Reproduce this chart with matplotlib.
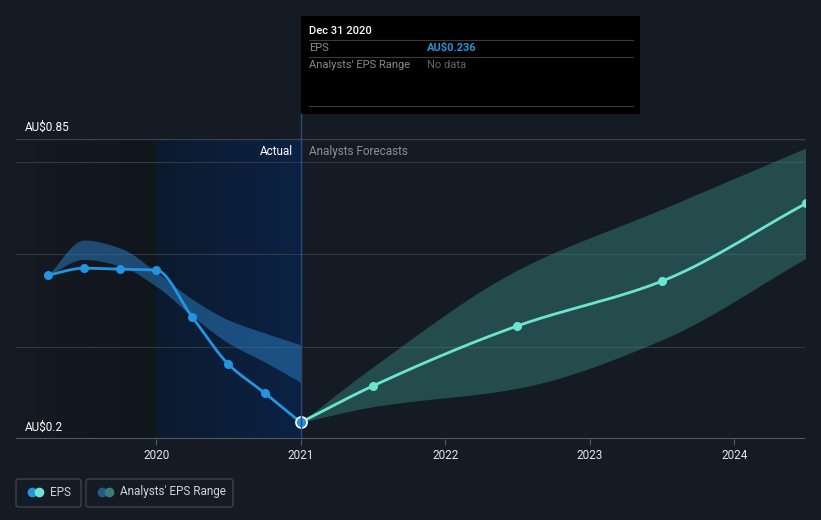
import numpy as np
import matplotlib
matplotlib.use("Agg")
import matplotlib.pyplot as plt
from matplotlib.patches import FancyBboxPatch, Rectangle
from matplotlib.lines import Line2D

plt.rcParams['font.family'] = ['Roboto', 'DejaVu Sans']

# ---- data ----
eps_years = [2019.25, 2019.5, 2019.75, 2020.0, 2020.25, 2020.5, 2020.75, 2021.0]
eps_vals = [0.555, 0.570, 0.568, 0.566, 0.464, 0.362, 0.300, 0.236]

past_range_years = [2019.25, 2019.5, 2019.75, 2020.0, 2020.25, 2020.5, 2020.75, 2021.0]
past_range_high = [0.555, 0.631, 0.614, 0.562, 0.503, 0.458, 0.430, 0.404]
past_range_low = [0.555, 0.589, 0.575, 0.531, 0.466, 0.408, 0.367, 0.323]

fc_years = [2021.0, 2021.5, 2022.5, 2023.5, 2024.5]
fc_vals = [0.236, 0.315, 0.445, 0.542, 0.711]
fc_high = [0.236, 0.356, 0.566, 0.698, 0.831]
fc_low = [0.236, 0.270, 0.310, 0.415, 0.592]

x_ticks = [2020, 2021, 2022, 2023, 2024]

BG = "#151b25"
EPS_BLUE = "#2394df"
FC_TEAL = "#6ce5d0"
GRID = "#323844"


def monotone(x, y, n=300):
    # monotone cubic (Fritsch-Carlson) just for drawing smooth curves
    x = np.asarray(x, float)
    y = np.asarray(y, float)
    h = np.diff(x)
    d = np.diff(y) / h
    m = np.zeros_like(y)
    m[0], m[-1] = d[0], d[-1]
    for i in range(1, len(y) - 1):
        if d[i - 1] * d[i] <= 0:
            m[i] = 0
        else:
            w1 = 2 * h[i] + h[i - 1]
            w2 = h[i] + 2 * h[i - 1]
            m[i] = (w1 + w2) / (w1 / d[i - 1] + w2 / d[i])
    xs = np.linspace(x[0], x[-1], n)
    idx = np.clip(np.searchsorted(x, xs) - 1, 0, len(x) - 2)
    t = (xs - x[idx]) / h[idx]
    h00 = 2 * t**3 - 3 * t**2 + 1
    h10 = t**3 - 2 * t**2 + t
    h01 = -2 * t**3 + 3 * t**2
    h11 = t**3 - t**2
    ys = h00 * y[idx] + h10 * h[idx] * m[idx] + h01 * y[idx + 1] + h11 * h[idx] * m[idx + 1]
    return xs, ys


fig = plt.figure(figsize=(8.21, 5.2), dpi=100)
fig.patch.set_facecolor(BG)
ax = fig.add_axes([16 / 821, 1 - 439 / 520, 789 / 821, 300 / 520])
ax.set_facecolor(BG)
x0, x1 = 2019.03, 2024.49
ax.set_xlim(x0, x1)
ax.set_ylim(0.2, 0.85)

# shaded backgrounds (dark past, blue last year)
grad = np.linspace(0, 1, 100).reshape(1, -1)
ax.imshow(grad, extent=[x0, 2020.0, 0.2, 0.85], aspect="auto", zorder=0,
          cmap=matplotlib.colors.LinearSegmentedColormap.from_list("d", ["#151a23", "#11151c"]))
ax.imshow(grad, extent=[2020.0, 2021.0, 0.2, 0.85], aspect="auto", zorder=0,
          cmap=matplotlib.colors.LinearSegmentedColormap.from_list("b", ["#0c1a2e", "#0b2244"]))

for yv in [0.4, 0.6, 0.8]:
    ax.axhline(yv, color=GRID, lw=0.8, zorder=1)
ax.axhline(0.85, color="#3c424d", lw=1, zorder=1)
ax.axhline(0.2, color="#555b66", lw=1.5, zorder=1)

# ranges
px, ph = monotone(past_range_years, past_range_high)
_, pl = monotone(past_range_years, past_range_low)
ax.fill_between(px, pl, ph, color="#2a77b8", alpha=0.55, lw=0, zorder=2)
fx, fh = monotone(fc_years, fc_high)
_, fl = monotone(fc_years, fc_low)
ax.fill_between(fx, fl, fh, color="#3a8a80", alpha=0.45, lw=0, zorder=2)

# lines
ex, ey = monotone(eps_years, eps_vals)
ax.plot(ex, ey, color=EPS_BLUE, lw=2.0, zorder=4, solid_capstyle="round")
ax.plot(eps_years[:-1], eps_vals[:-1], "o", color=EPS_BLUE, ms=5.5, zorder=5)
gx, gy = monotone(fc_years, fc_vals)
ax.plot(gx, gy, color=FC_TEAL, lw=2.0, zorder=4)
ax.plot(fc_years[1:], fc_vals[1:], "o", color=FC_TEAL, ms=5.5, zorder=5)
ax.plot([eps_years[-1]], [eps_vals[-1]], "o", color=EPS_BLUE, ms=8,
        mec="white", mew=1.2, zorder=6)

ax.set_xticks(x_ticks)
ax.set_xticklabels([str(v) for v in x_ticks], color="#e6e6e6", fontsize=8.5)
ax.tick_params(axis="x", length=4, color="#555b66", pad=3)
ax.set_yticks([])
for s in ax.spines.values():
    s.set_visible(False)

# labels on axis
fig.text(25 / 821, 1 - 127 / 520, "AU$0.85", color="#ffffff", fontsize=8.5, va="center")
fig.text(25 / 821, 1 - 427 / 520, "AU$0.2", color="#ffffff", fontsize=8.5, va="center")
fig.text(293 / 821, 1 - 151 / 520, "Actual", color="#ffffff", fontsize=8.5,
         va="center", ha="right")
fig.text(309 / 821, 1 - 151 / 520, "Analysts Forecasts", color="#8a8f98", fontsize=8.5,
         va="center")

# divider line at "now"
fig.add_artist(Line2D([301 / 821, 301 / 821], [1 - 439 / 520, 1 - 114 / 520],
                      color="#2b4a78", lw=1))

# tooltip box
fig.add_artist(Rectangle((301 / 821, 1 - 114 / 520), 339 / 821, 98 / 520,
                         transform=fig.transFigure, facecolor="#000000", edgecolor="none"))
fig.text(309 / 821, 1 - 31 / 520, "Dec 31 2020", color="#ffffff", fontsize=8, va="center",
         fontweight="medium")
for yy in [40, 57, 106]:
    fig.add_artist(Line2D([309 / 821, 633 / 821], [1 - yy / 520, 1 - yy / 520],
                          color="#3a3a3a", lw=0.8))
fig.text(309 / 821, 1 - 48 / 520, "EPS", color="#8a8a8a", fontsize=8, va="center")
fig.text(427 / 821, 1 - 48 / 520, "AU$0.236", color="#2394df", fontsize=8,
         va="center", fontweight="bold")
fig.text(309 / 821, 1 - 65 / 520, "Analysts' EPS Range", color="#8a8a8a", fontsize=8, va="center")
fig.text(427 / 821, 1 - 65 / 520, "No data", color="#666666", fontsize=8, va="center")

# legend buttons
for (bx, bw, label, c1, c2) in [(16, 65, "EPS", EPS_BLUE, FC_TEAL),
                                (86, 147, "Analysts' EPS Range", "#235a87", "#3b7c78")]:
    fig.add_artist(FancyBboxPatch((bx / 821, 1 - 507 / 520), bw / 821, 28 / 520,
                                  boxstyle="round,pad=0,rounding_size=0.004",
                                  transform=fig.transFigure, facecolor=BG,
                                  edgecolor="#3c424d", lw=1))
    fig.add_artist(Line2D([(bx + 16) / 821], [1 - 492 / 520], marker="o", ms=7,
                          color=c1, mec="none"))
    fig.add_artist(Line2D([(bx + 23) / 821], [1 - 492 / 520], marker="o", ms=7,
                          color=c2, mec="none"))
    fig.text((bx + 34) / 821, 1 - 492 / 520, label, color="#d0d3d8", fontsize=8.5, va="center")

fig.savefig("out.png", dpi=100, facecolor=BG)
